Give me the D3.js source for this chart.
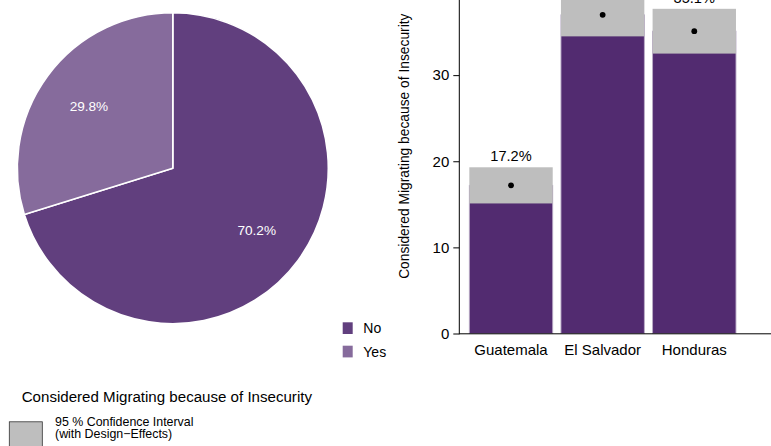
<!DOCTYPE html>
<html>
<head>
<meta charset="utf-8">
<script src="https://cdn.jsdelivr.net/npm/d3@7"></script>
<style>
  html, body { margin: 0; padding: 0; background: #ffffff; }
  svg { display: block; font-family: "Liberation Sans", Arial, Helvetica, sans-serif; }
</style>
</head>
<body>
<svg id="chart" width="771" height="446"></svg>
<script>
// Overall answer shares (pie)
const pieCategories = ["No", "Yes"];
const pieShares = [70.2, 29.8];

// Per-country estimates with 95% confidence bounds (bars)
const countries = ["Guatemala", "El Salvador", "Honduras"];
const estimates = [17.2, 37.0, 35.1];
const ciLower = [15.1, 34.5, 32.5];
const ciUpper = [19.3, 39.6, 37.7];
const yTicks = [0, 10, 20, 30];

const titleText = "Considered Migrating because of Insecurity";
const ciLegendLines = ["95 % Confidence Interval", "(with Design\u2212Effects)"];

const pieColors = ["#613f7e", "#866b9c"];
const barColor = "#522b70";
const ciColor = "#bebebe";

const svg = d3.select("#chart");

// ---------- Pie ----------
const pieG = svg.append("g").attr("transform", "translate(172.8,168.2)");
const radius = 155.5;
const arcs = d3.pie().sort(null).value(d => d)(pieShares);
const arcGen = d3.arc().innerRadius(0).outerRadius(radius);
const labelArc = d3.arc().innerRadius(radius * 0.67).outerRadius(radius * 0.67);

pieG.selectAll("path.slice")
  .data(arcs)
  .join("path")
  .attr("class", "slice")
  .attr("d", arcGen)
  .attr("fill", (d, i) => pieColors[i])
  .attr("stroke", "#ffffff")
  .attr("stroke-width", 1.6)
  .attr("stroke-linejoin", "round");

pieG.selectAll("text.pct")
  .data(arcs)
  .join("text")
  .attr("class", "pct")
  .attr("transform", d => `translate(${labelArc.centroid(d)})`)
  .attr("text-anchor", "middle")
  .attr("dy", "0.35em")
  .attr("fill", "#ffffff")
  .attr("font-size", 13.6)
  .text(d => d3.format(".1f")(d.data) + "%");

// Pie legend
const legG = svg.append("g").attr("transform", "translate(342.7,322.3)");
const legItems = legG.selectAll("g")
  .data(pieCategories)
  .join("g")
  .attr("transform", (d, i) => `translate(0,${i * 23.4})`);
legItems.append("rect")
  .attr("width", 10).attr("height", 11.7)
  .attr("fill", (d, i) => pieColors[i]);
legItems.append("text")
  .attr("x", 20.6).attr("y", 5.9).attr("dy", "0.36em")
  .attr("font-size", 14).attr("fill", "#000")
  .text(d => d);

// ---------- Bars ----------
const axisX = 459.3, axisY = 333.8;
const x = d3.scaleBand()
  .domain(countries)
  .range([465.2, 740.1])
  .paddingInner(0.09)
  .paddingOuter(0.045);
const y = d3.scaleLinear().domain([0, 40]).range([333.5, -11]);

const rows = countries.map((c, i) => ({
  c, est: estimates[i], lo: ciLower[i], hi: ciUpper[i]
}));

const barG = svg.append("g");
barG.selectAll("rect.bar")
  .data(rows)
  .join("rect")
  .attr("class", "bar")
  .attr("x", d => x(d.c))
  .attr("width", x.bandwidth())
  .attr("y", d => y(d.est))
  .attr("height", d => y(0) - y(d.est))
  .attr("fill", barColor)
  .attr("stroke", "#b9abc6")
  .attr("stroke-width", 0.9);

barG.selectAll("rect.ci")
  .data(rows)
  .join("rect")
  .attr("class", "ci")
  .attr("x", d => x(d.c))
  .attr("width", x.bandwidth())
  .attr("y", d => y(d.hi))
  .attr("height", d => y(d.lo) - y(d.hi))
  .attr("fill", ciColor);

barG.selectAll("circle.est")
  .data(rows)
  .join("circle")
  .attr("class", "est")
  .attr("cx", d => x(d.c) + x.bandwidth() / 2)
  .attr("cy", d => y(d.est))
  .attr("r", 2.9)
  .attr("fill", "#000");

barG.selectAll("text.val")
  .data(rows)
  .join("text")
  .attr("class", "val")
  .attr("x", d => x(d.c) + x.bandwidth() / 2)
  .attr("y", d => y(d.hi) - 6)
  .attr("text-anchor", "middle")
  .attr("font-size", 14.6)
  .attr("fill", "#000")
  .text(d => d3.format(".1f")(d.est) + "%");

// Y axis
const yAxisG = svg.append("g").attr("transform", `translate(${axisX},0)`);
yAxisG.call(d3.axisLeft(y).tickValues(yTicks).tickSize(6).tickPadding(4).tickFormat(d3.format("d")));
yAxisG.select(".domain").remove();
yAxisG.append("line")
  .attr("x1", 0).attr("x2", 0)
  .attr("y1", -20).attr("y2", axisY + 0.5)
  .attr("stroke", "#000").attr("stroke-width", 1);
yAxisG.selectAll(".tick line").attr("stroke", "#000");
yAxisG.selectAll(".tick text")
  .attr("font-size", 15)
  .attr("font-family", "Liberation Sans, Arial, sans-serif")
  .attr("fill", "#000");

// X axis (labels only, baseline rule to the right edge)
const xAxisG = svg.append("g").attr("transform", `translate(0,${axisY})`);
xAxisG.call(d3.axisBottom(x).tickSize(0).tickPadding(11));
xAxisG.select(".domain").remove();
xAxisG.append("line")
  .attr("x1", axisX).attr("x2", 771)
  .attr("y1", 0).attr("y2", 0)
  .attr("stroke", "#000").attr("stroke-width", 1);
xAxisG.selectAll(".tick text")
  .attr("font-size", 15)
  .attr("font-family", "Liberation Sans, Arial, sans-serif")
  .attr("fill", "#000");

// Y axis title
svg.append("text")
  .attr("transform", "translate(409,146.2) rotate(-90)")
  .attr("text-anchor", "middle")
  .attr("font-size", 13.8)
  .attr("fill", "#000")
  .text(titleText);

// ---------- Lower legend ----------
svg.append("text")
  .attr("x", 21.7).attr("y", 401.7)
  .attr("font-size", 15.1)
  .attr("fill", "#000")
  .text(titleText);

svg.append("rect")
  .attr("x", 9.3).attr("y", 421.8)
  .attr("width", 33).attr("height", 40)
  .attr("fill", ciColor)
  .attr("stroke", "#333")
  .attr("stroke-width", 0.8);

svg.append("text")
  .attr("x", 55).attr("font-size", 12.4).attr("fill", "#000")
  .selectAll("tspan")
  .data(ciLegendLines)
  .join("tspan")
  .attr("x", 55)
  .attr("y", (d, i) => 426 + i * 11.5)
  .text(d => d);
</script>
</body>
</html>
